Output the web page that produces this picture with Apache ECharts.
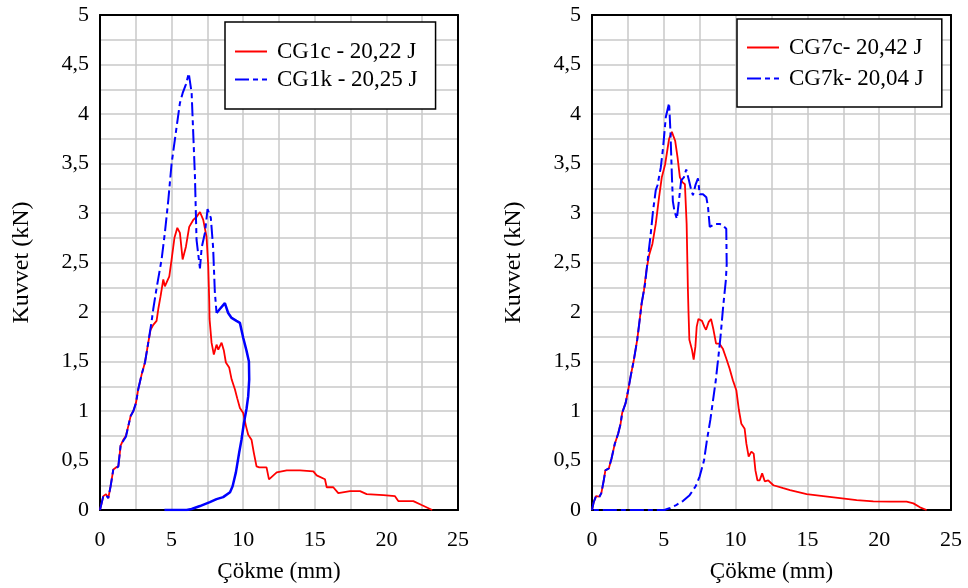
<!DOCTYPE html>
<html>
<head>
<meta charset="utf-8">
<script src="https://cdn.jsdelivr.net/npm/echarts@6/dist/echarts.min.js"></script>
<style>
  html, body { margin: 0; padding: 0; background: #fff; }
  #chart { width: 968px; height: 588px; }
</style>
</head>
<body>
<div id="chart"></div>
<script>
// Çökme (mm), Kuvvet (kN) pairs
const cg1c = [
  [0, 0], [0.23, 0.14], [0.42, 0.16], [0.58, 0.12], [0.74, 0.24], [0.93, 0.41], [1.12, 0.43], [1.28, 0.44],
  [1.44, 0.65], [1.63, 0.71], [1.81, 0.75], [1.98, 0.85], [2.14, 0.95], [2.33, 1.0], [2.51, 1.08], [2.67, 1.22],
  [2.91, 1.37], [3.14, 1.49], [3.37, 1.69], [3.53, 1.82], [3.72, 1.87], [3.95, 1.91], [4.07, 2.03], [4.23, 2.16],
  [4.42, 2.33], [4.53, 2.26], [4.65, 2.24], [4.84, 2.36], [5.0, 2.53], [5.2, 2.75], [5.4, 2.85], [5.58, 2.8],
  [5.77, 2.53], [6.0, 2.66], [6.23, 2.86], [6.51, 2.93], [6.74, 2.96], [6.98, 3.01], [7.21, 2.93], [7.44, 2.76],
  [7.56, 2.46], [7.63, 2.1], [7.65, 1.93], [7.79, 1.69], [7.95, 1.57], [8.14, 1.67], [8.26, 1.62], [8.49, 1.69],
  [8.65, 1.61], [8.79, 1.49], [9.02, 1.44], [9.19, 1.32], [9.42, 1.22], [9.58, 1.13], [9.77, 1.03], [10.0, 0.98],
  [10.19, 0.85], [10.35, 0.76], [10.58, 0.71], [10.74, 0.58], [10.93, 0.44], [11.12, 0.43], [11.63, 0.43],
  [11.8, 0.31], [12.34, 0.38], [13.04, 0.4], [13.97, 0.4], [14.9, 0.39], [15.13, 0.35], [15.71, 0.31],
  [15.83, 0.23], [16.29, 0.23], [16.64, 0.17], [17.46, 0.19], [18.16, 0.19], [18.62, 0.16], [19.79, 0.15],
  [20.6, 0.14], [20.83, 0.09], [21.88, 0.09], [22.46, 0.05], [23.2, 0]
]
const cg1k = [
  [0, 0], [0.23, 0.14], [0.42, 0.15], [0.58, 0.12], [0.74, 0.24], [0.93, 0.41], [1.12, 0.42], [1.28, 0.44],
  [1.44, 0.65], [1.63, 0.7], [1.81, 0.74], [1.98, 0.85], [2.14, 0.95], [2.33, 1.0], [2.51, 1.08], [2.67, 1.22],
  [2.91, 1.37], [3.14, 1.49], [3.37, 1.69], [3.6, 1.9], [3.72, 2.03], [3.95, 2.24], [4.3, 2.53], [4.53, 2.8],
  [4.77, 3.13], [5.0, 3.5], [5.35, 3.87], [5.58, 4.11], [5.77, 4.21], [6.0, 4.3], [6.2, 4.41], [6.4, 4.21],
  [6.63, 3.37], [6.74, 2.73], [6.98, 2.44], [7.1, 2.65], [7.33, 2.8], [7.51, 3.04], [7.74, 2.95], [7.9, 2.65],
  [8.02, 2.2], [8.14, 1.99]
]
const cg1kTail = [
  [8.14, 1.99], [8.37, 2.03], [8.72, 2.09], [8.95, 1.99], [9.19, 1.94], [9.53, 1.91], [9.77, 1.89], [10.0, 1.74],
  [10.23, 1.61], [10.4, 1.5], [10.42, 1.32], [10.35, 1.15], [10.23, 1.02], [10.05, 0.88], [9.88, 0.71],
  [9.72, 0.58], [9.49, 0.38], [9.26, 0.24], [9.08, 0.18], [8.6, 0.13], [8.14, 0.11], [7.67, 0.08], [6.98, 0.04],
  [6.4, 0.01], [6.05, 0], [4.5, 0]
]
const cg7c = [
  [0, 0], [0.12, 0.08], [0.28, 0.14], [0.51, 0.135], [0.65, 0.17], [0.82, 0.3], [0.93, 0.4], [1.17, 0.42],
  [1.36, 0.52], [1.59, 0.67], [1.82, 0.77], [1.99, 0.87], [2.1, 0.98], [2.34, 1.08], [2.52, 1.21], [2.69, 1.35],
  [2.92, 1.52], [3.15, 1.72], [3.32, 1.92], [3.46, 2.09], [3.62, 2.22], [3.79, 2.42], [3.97, 2.57], [4.21, 2.69],
  [4.44, 2.89], [4.67, 3.16], [4.86, 3.36], [5.09, 3.49], [5.37, 3.75], [5.56, 3.82], [5.79, 3.73], [5.96, 3.56],
  [6.12, 3.36], [6.31, 3.31], [6.47, 3.29], [6.59, 2.89], [6.68, 2.22], [6.72, 2.0], [6.78, 1.72], [6.96, 1.62],
  [7.08, 1.52], [7.2, 1.65], [7.29, 1.85], [7.41, 1.93], [7.66, 1.91], [7.83, 1.85], [7.94, 1.82], [8.13, 1.9],
  [8.29, 1.93], [8.46, 1.82], [8.64, 1.68], [8.88, 1.68], [9.11, 1.63], [9.35, 1.53], [9.58, 1.43], [9.81, 1.31],
  [10.05, 1.21], [10.23, 1.01], [10.4, 0.87], [10.63, 0.82], [10.75, 0.67], [10.91, 0.54], [11.1, 0.59],
  [11.26, 0.57], [11.38, 0.4], [11.52, 0.3], [11.68, 0.3], [11.85, 0.37], [12.03, 0.29], [12.27, 0.3],
  [12.63, 0.25], [13.32, 0.22], [13.79, 0.2], [14.95, 0.16], [16.1, 0.14], [17.27, 0.12], [18.43, 0.1],
  [19.59, 0.088], [20.75, 0.084], [21.91, 0.084], [22.38, 0.067], [22.84, 0.027], [23.3, 0]
]
const cg7k = [
  [0, 0], [0.12, 0.08], [0.28, 0.14], [0.51, 0.13], [0.65, 0.17], [0.82, 0.3], [0.93, 0.4], [1.17, 0.42],
  [1.36, 0.52], [1.59, 0.67], [1.82, 0.77], [1.99, 0.87], [2.1, 0.98], [2.34, 1.08], [2.52, 1.21], [2.69, 1.35],
  [2.92, 1.52], [3.15, 1.72], [3.32, 1.92], [3.46, 2.09], [3.69, 2.28], [3.93, 2.59], [4.09, 2.79], [4.25, 3.02],
  [4.44, 3.23], [4.56, 3.28], [4.79, 3.46], [4.95, 3.66], [5.14, 3.97], [5.37, 4.11], [5.46, 3.83], [5.56, 3.39],
  [5.63, 3.12], [5.74, 3.02], [5.91, 2.94], [6.05, 3.12], [6.21, 3.33], [6.4, 3.36], [6.56, 3.44], [6.75, 3.33],
  [6.91, 3.23], [7.03, 3.18], [7.22, 3.29], [7.38, 3.35], [7.5, 3.19], [7.73, 3.19], [7.96, 3.16], [8.08, 3.06],
  [8.2, 2.86], [8.55, 2.89], [8.9, 2.89], [9.13, 2.87], [9.35, 2.84], [9.38, 2.48], [9.32, 2.32], [9.13, 2.05],
  [8.95, 1.75], [8.78, 1.52], [8.62, 1.31], [8.43, 1.11], [8.24, 0.91], [8.01, 0.71], [7.8, 0.5], [7.5, 0.34],
  [7.22, 0.24], [6.8, 0.15], [6.33, 0.09], [5.86, 0.05], [5.39, 0.017], [5.04, 0], [0, 0]
]
const names = ['CG1c - 20,22 J', 'CG1k - 20,25 J', 'CG7c- 20,42 J', 'CG7k- 20,04 J']

const FONT = 'Liberation Serif'
const GRID_COLOR = '#c8c8c8'
const DASH = [14, 4, 5, 4]

function mainX(gridIndex) {
  return {
    type: 'value', gridIndex, min: 0, max: 25, interval: 2.5,
    name: 'Çökme (mm)', nameLocation: 'middle', nameGap: 50,
    nameTextStyle: { fontFamily: FONT, fontSize: 23, color: '#000' },
    axisLine: { show: true, lineStyle: { color: '#000', width: 2 } },
    axisTick: { show: false },
    axisLabel: {
      fontFamily: FONT, fontSize: 22, color: '#000', margin: 19,
      formatter: v => (v % 5 === 0 ? String(v) : ''),
    },
    splitLine: { show: true, lineStyle: { color: GRID_COLOR, width: 1.5 } },
  }
}

function mainY(gridIndex) {
  return {
    type: 'value', gridIndex, min: 0, max: 5, interval: 0.25,
    name: 'Kuvvet (kN)', nameLocation: 'middle', nameGap: 66, nameRotate: 90,
    nameTextStyle: { fontFamily: FONT, fontSize: 24, color: '#000' },
    axisLine: { show: true, lineStyle: { color: '#000', width: 2 } },
    axisTick: { show: false },
    axisLabel: {
      fontFamily: FONT, fontSize: 22, color: '#000', margin: 11,
      formatter: v => (Math.abs(v * 2 - Math.round(v * 2)) < 1e-6 ? String(v).replace('.', ',') : ''),
    },
    splitLine: { show: true, lineStyle: { color: GRID_COLOR, width: 1.5 } },
  }
}

// plain axes on the top and right sides to close the frame
function frameAxis(kind, gridIndex) {
  const range = kind === 'x' ? { min: 0, max: 25 } : { min: 0, max: 5 }
  return {
    type: 'value', gridIndex, ...range,
    position: kind === 'x' ? 'top' : 'right',
    axisLine: { show: true, onZero: false, lineStyle: { color: '#000', width: 2 } },
    axisTick: { show: false },
    axisLabel: { show: false },
    splitLine: { show: false },
  }
}

function legendAt(left, top, data, padding, gap) {
  return {
    data, orient: 'vertical', left, top,
    padding, itemGap: gap, itemWidth: 32, itemHeight: 12,
    backgroundColor: '#fff', borderColor: '#000', borderWidth: 1.5, borderRadius: 0,
    selectedMode: false,
    itemStyle: { opacity: 0 },
    textStyle: { fontFamily: FONT, fontSize: 23, color: '#000', padding: [0, 0, 0, 5] },
  }
}

function line(name, data, xi, yi, color, type, width) {
  return {
    name, type: 'line', data, xAxisIndex: xi, yAxisIndex: yi,
    symbol: 'none', showSymbol: false, smooth: false,
    lineStyle: { color, width, type },
    itemStyle: { color },
  }
}

const chart = echarts.init(document.getElementById('chart'))
chart.setOption({
  animation: false,
  backgroundColor: '#fff',
  grid: [
    { left: 100, top: 15, width: 358, height: 496 },
    { left: 592, top: 15, width: 359, height: 495 },
  ],
  legend: [
    legendAt(225, 22, [names[0], names[1]], [18, 18, 18, 9], 5),
    legendAt(737, 19, [names[2], names[3]], [17, 18, 17, 9], 8),
  ],
  xAxis: [mainX(0), mainX(1), frameAxis('x', 0), frameAxis('x', 1)],
  yAxis: [mainY(0), mainY(1), frameAxis('y', 0), frameAxis('y', 1)],
  series: [
    line(names[0], cg1c, 0, 0, '#ff0000', 'solid', 1.8),
    line(names[1], cg1k, 0, 0, '#0000ff', DASH, 2),
    line('CG1k', cg1kTail, 0, 0, '#0000ff', 'solid', 2.5),
    line(names[2], cg7c, 1, 1, '#ff0000', 'solid', 1.8),
    line(names[3], cg7k, 1, 1, '#0000ff', DASH, 2),
  ],
})
</script>
</body>
</html>
